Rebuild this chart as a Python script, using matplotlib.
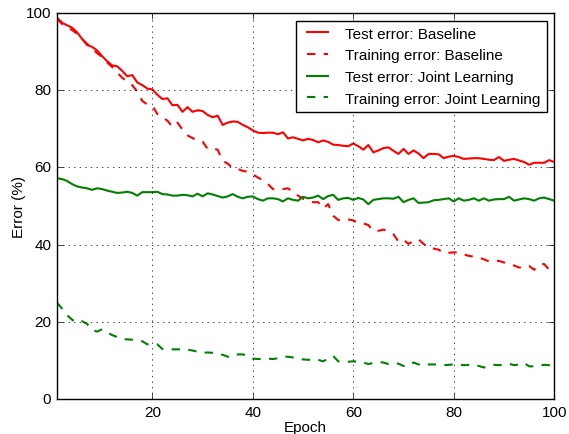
import matplotlib
matplotlib.use('Agg')
import matplotlib.pyplot as plt

plt.style.use('classic')
plt.rcParams['font.family'] = ['Liberation Sans', 'DejaVu Sans']

epochs = list(range(1, 101))

test_base = [98.8, 97.5, 96.8, 96.2, 95.0, 93.3, 91.7, 91.2, 90.3, 88.8,
             87.5, 86.4, 86.2, 85.0, 83.6, 83.9, 82.0, 81.3, 80.4, 80.2,
             78.8, 77.7, 77.9, 76.1, 76.2, 74.4, 75.6, 74.4, 74.8, 74.6,
             73.6, 73.0, 73.4, 71.0, 71.6, 71.9, 71.8, 71.0, 70.4, 69.6,
             69.0, 68.9, 69.0, 69.0, 68.6, 69.1, 67.5, 67.8, 67.4, 67.0,
             67.4, 67.1, 66.5, 67.0, 66.6, 65.9, 65.8, 65.6, 65.5, 66.2,
             65.5, 64.6, 65.8, 63.9, 64.4, 65.0, 65.2, 64.3, 63.5, 64.8,
             63.5, 64.4, 63.6, 62.4, 63.5, 63.5, 63.4, 62.4, 62.8, 63.0,
             62.7, 62.2, 62.3, 62.4, 62.4, 62.2, 62.0, 61.9, 62.7, 61.7,
             62.0, 62.2, 61.8, 61.4, 60.7, 61.2, 61.2, 61.2, 61.9, 61.4]

train_base = [98.5, 97.2, 96.2, 95.6, 94.6, 93.3, 92.0, 90.8, 89.6, 88.6,
              87.2, 86.0, 84.6, 83.2, 82.3, 81.3, 79.6, 77.2, 76.3, 76.0,
              73.8, 73.0, 72.1, 70.5, 71.6, 69.8, 68.3, 67.6, 67.0, 66.7,
              64.8, 64.9, 64.6, 61.7, 61.0, 59.8, 59.6, 59.1, 58.9, 58.2,
              57.4, 56.7, 55.7, 54.4, 54.2, 54.4, 54.6, 53.6, 52.7, 51.9,
              51.4, 51.0, 51.0, 49.4, 50.5, 47.5, 46.4, 46.2, 46.5, 46.3,
              45.6, 45.5, 45.1, 43.5, 43.6, 43.9, 43.5, 42.7, 40.8, 41.3,
              40.2, 41.0, 41.4, 40.2, 39.3, 39.0, 38.7, 37.8, 37.9, 38.0,
              38.0, 37.5, 37.1, 36.9, 36.7, 36.2, 35.7, 35.8, 35.8, 35.4,
              35.1, 34.6, 34.1, 34.1, 34.5, 33.5, 34.8, 35.0, 33.5, 34.2]

test_joint = [57.2, 57.0, 56.5, 55.7, 55.1, 54.8, 54.6, 54.2, 54.6, 54.4,
              54.0, 53.7, 53.4, 53.5, 53.7, 53.4, 52.7, 53.6, 53.6, 53.6,
              53.7, 53.1, 53.0, 52.7, 52.7, 52.9, 52.8, 52.5, 53.2, 52.5,
              53.3, 53.0, 52.6, 52.2, 52.5, 53.1, 52.4, 52.0, 52.4, 52.5,
              51.8, 51.4, 52.0, 52.0, 51.8, 51.2, 52.0, 51.6, 51.4, 52.4,
              52.0, 52.2, 52.7, 51.8, 52.6, 52.9, 51.6, 52.0, 52.1, 51.6,
              52.1, 51.7, 50.5, 51.6, 51.8, 52.0, 52.0, 51.9, 52.4, 51.0,
              51.6, 52.0, 50.8, 50.9, 51.0, 51.5, 51.6, 51.8, 52.0, 51.2,
              52.0, 51.4, 51.6, 52.0, 51.4, 52.0, 51.4, 51.7, 51.8, 51.8,
              52.4, 51.4, 51.7, 52.0, 51.8, 51.4, 52.0, 52.2, 51.8, 51.4]

train_joint = [25.0, 23.5, 21.8, 20.6, 19.8, 20.2, 19.5, 17.9, 17.5, 18.1,
               17.3, 16.6, 16.1, 15.5, 15.5, 15.4, 15.3, 15.0, 14.2, 14.4,
               14.2, 13.0, 12.9, 12.9, 12.9, 12.9, 12.8, 12.6, 12.3, 12.0,
               12.1, 12.0, 11.8, 11.5, 11.0, 10.9, 11.6, 11.6, 11.3, 10.5,
               10.4, 10.5, 10.5, 10.4, 10.6, 11.0, 11.0, 10.8, 10.5, 10.3,
               10.2, 10.3, 10.2, 9.8, 10.5, 11.2, 9.8, 9.7, 9.7, 9.8,
               9.7, 9.5, 9.1, 9.4, 9.6, 9.5, 9.1, 9.4, 9.2, 8.6,
               8.6, 9.5, 9.0, 8.6, 9.0, 9.0, 9.0, 8.8, 8.9, 9.0,
               9.0, 8.8, 8.9, 9.0, 8.6, 8.2, 8.6, 8.9, 8.8, 9.0,
               9.2, 8.8, 9.0, 9.4, 8.5, 8.5, 8.7, 8.9, 8.8, 8.8]

fig = plt.figure(figsize=(5.69, 4.35), dpi=100, facecolor='white')
ax = fig.add_axes([0.1, 0.08, 0.874, 0.888])

ax.plot(epochs, test_base, 'r-', linewidth=1.5, label='Test error: Baseline')
ax.plot(epochs, train_base, 'r--', linewidth=1.5, label='Training error: Baseline')
ax.plot(epochs, test_joint, 'g-', linewidth=1.5, label='Test error: Joint Learning')
ax.plot(epochs, train_joint, 'g--', linewidth=1.5, label='Training error: Joint Learning')

ax.set_xlim(1, 100)
ax.set_ylim(0, 100)
ax.set_xticks([20, 40, 60, 80, 100])
ax.set_yticks([0, 20, 40, 60, 80, 100])
ax.grid(True)
ax.tick_params(labelsize=11)
ax.set_xlabel('Epoch', fontsize=11, labelpad=1)
ax.set_ylabel('Error (%)', fontsize=11, labelpad=0)
ax.legend(loc='upper right', fontsize=11)

fig.savefig('out.png', dpi=100, facecolor='white')
